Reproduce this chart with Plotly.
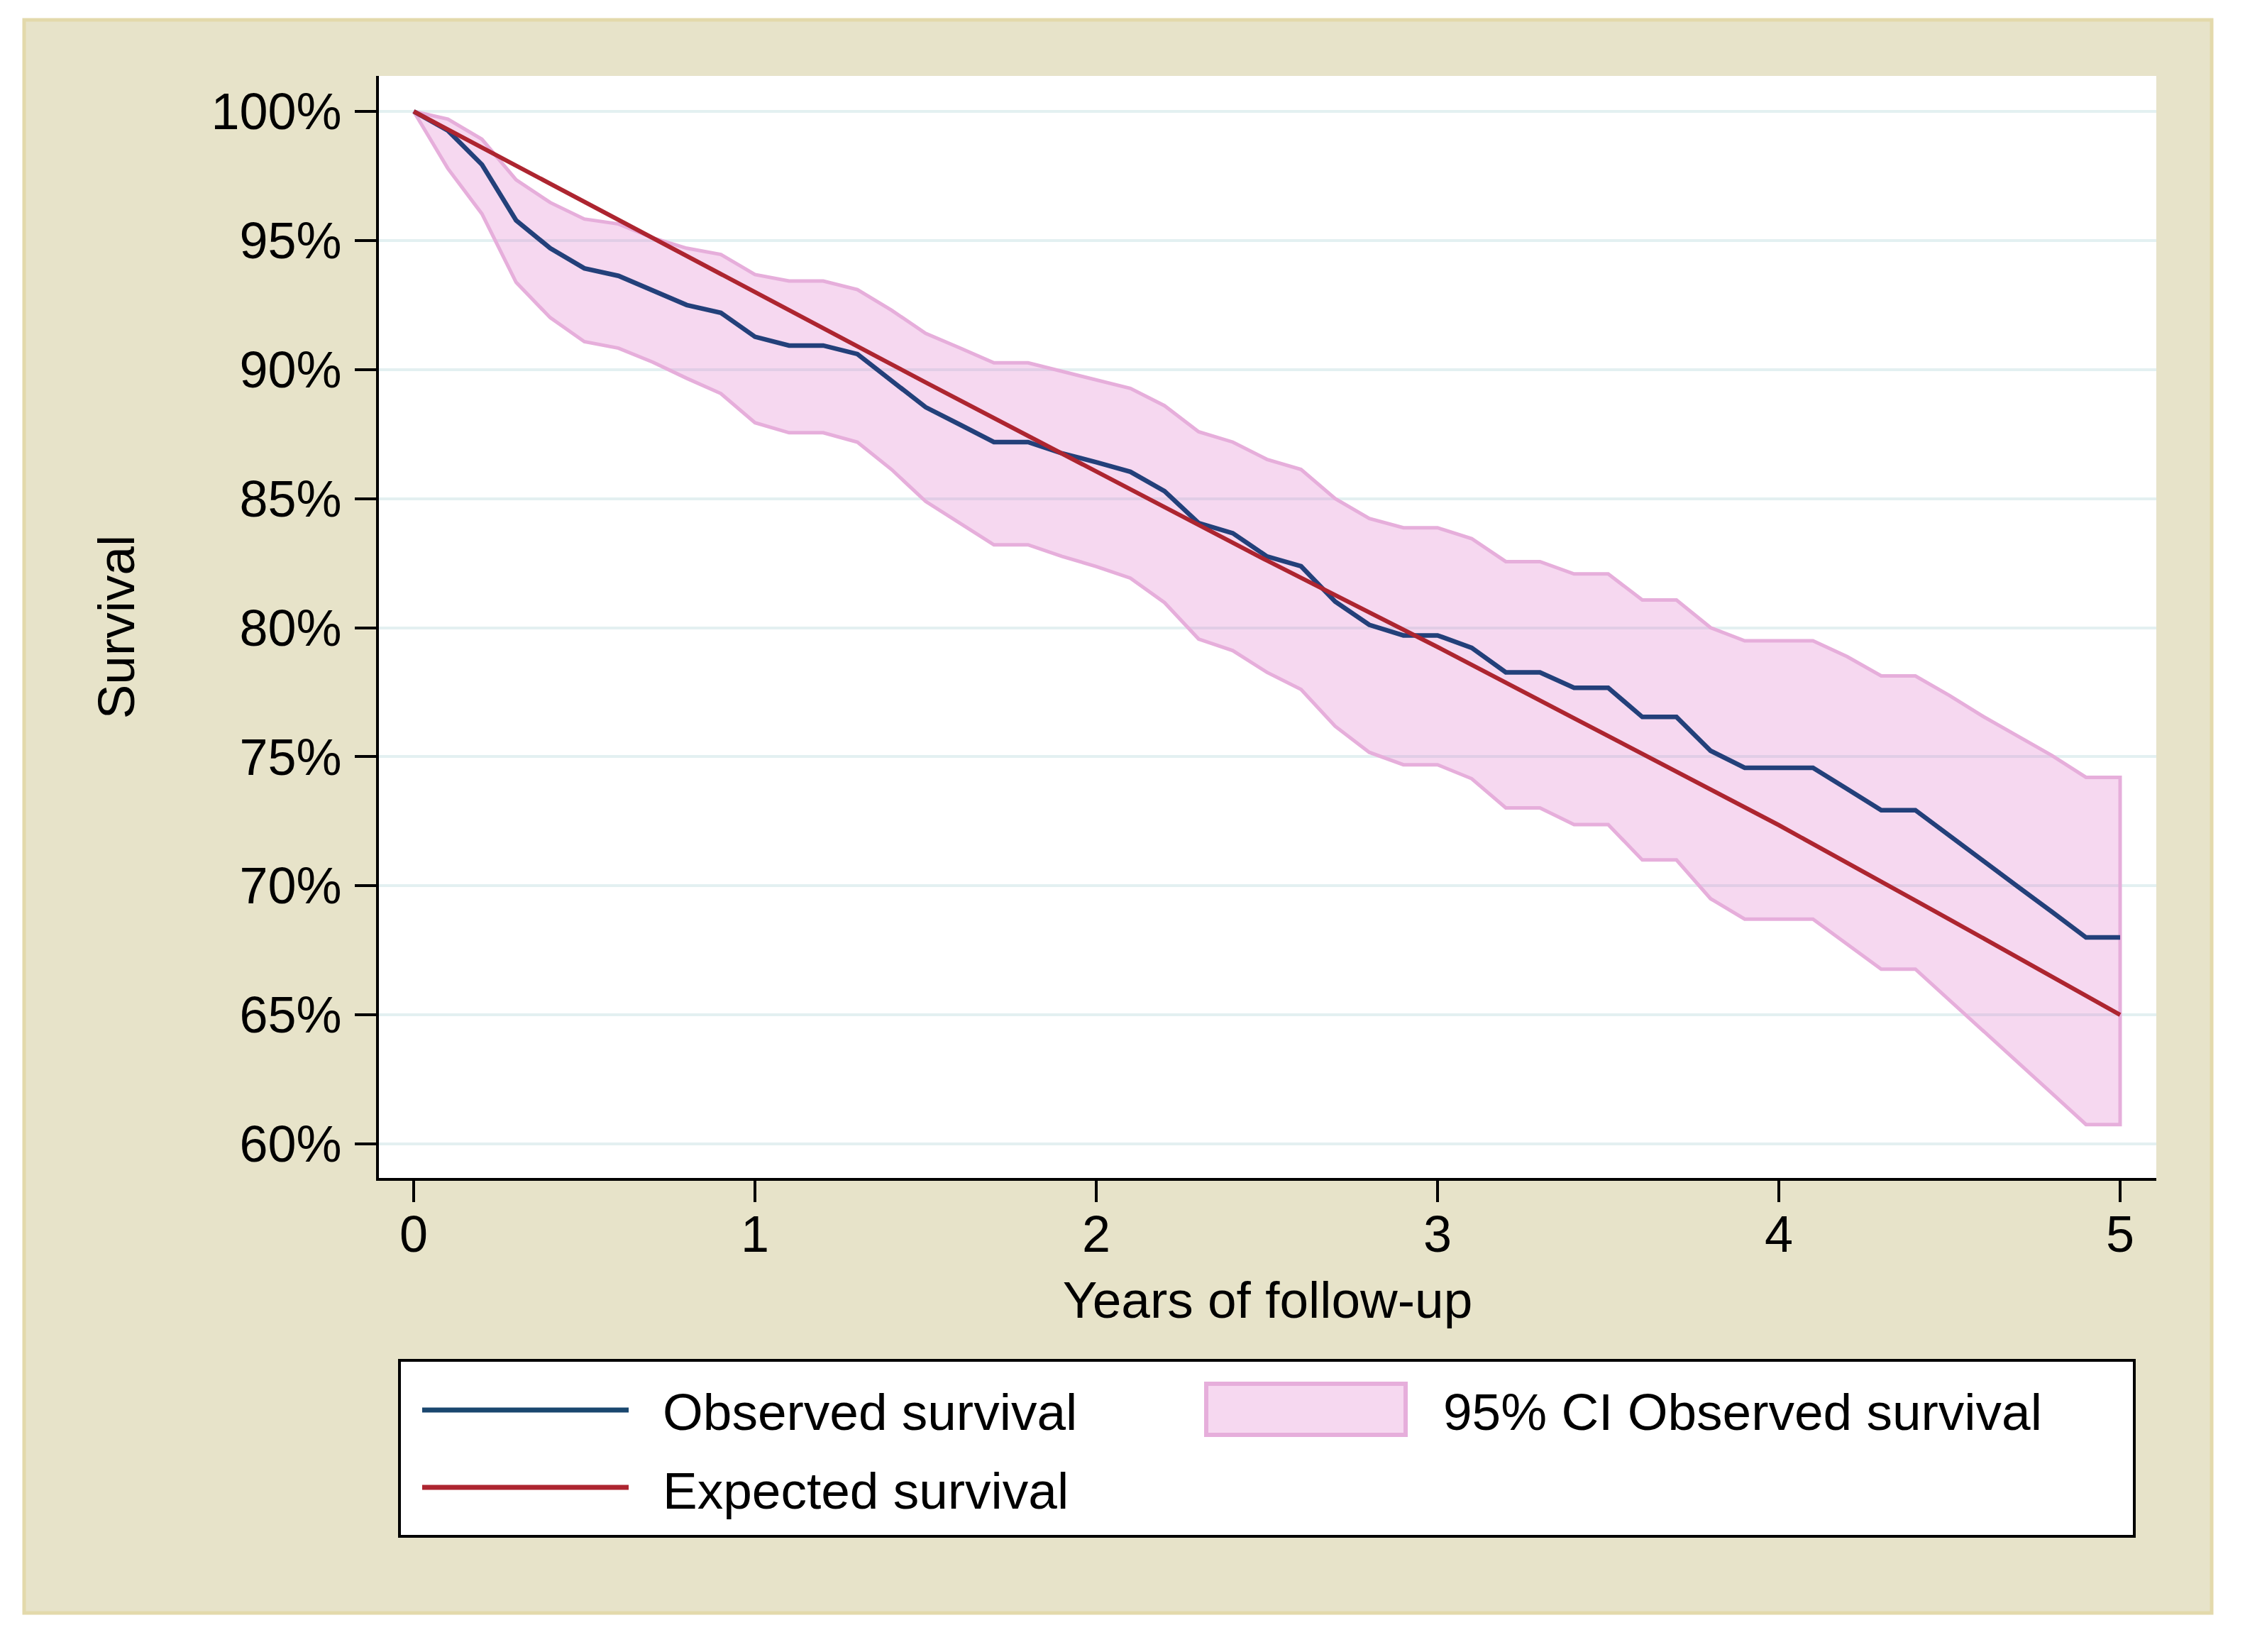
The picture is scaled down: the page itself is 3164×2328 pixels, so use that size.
import plotly.graph_objects as go

# ---------------- data ----------------
years = [0.0, 0.1, 0.2, 0.3, 0.4, 0.5, 0.6, 0.7, 0.8, 0.9,
         1.0, 1.1, 1.2, 1.3, 1.4, 1.5, 1.6, 1.7, 1.8, 1.9,
         2.0, 2.1, 2.2, 2.3, 2.4, 2.5, 2.6, 2.7, 2.8, 2.9,
         3.0, 3.1, 3.2, 3.3, 3.4, 3.5, 3.6, 3.7, 3.8, 3.9,
         4.0, 4.1, 4.2, 4.3, 4.4, 4.5, 4.6, 4.7, 4.8, 4.9, 5.0]

observed = [100.0, 99.26, 97.94, 95.78, 94.70, 93.92, 93.63, 93.05, 92.50, 92.20,
            91.27, 90.93, 90.93, 90.60, 89.55, 88.54, 87.87, 87.19, 87.19, 86.75,
            86.41, 86.04, 85.29, 84.05, 83.66, 82.76, 82.38, 81.01, 80.11, 79.70,
            79.70, 79.22, 78.27, 78.27, 77.67, 77.67, 76.54, 76.54, 75.23, 74.57,
            74.57, 74.57, 73.75, 72.93, 72.93, 71.96, 70.97, 69.97, 68.99, 68.00, 68.00]

ci_upper = [100.0, 99.70, 98.92, 97.35, 96.47, 95.83, 95.64, 95.10, 94.70, 94.46,
            93.68, 93.43, 93.43, 93.10, 92.30, 91.40, 90.84, 90.26, 90.26, 89.94,
            89.61, 89.27, 88.60, 87.59, 87.19, 86.52, 86.13, 85.00, 84.23, 83.87,
            83.87, 83.45, 82.56, 82.56, 82.08, 82.08, 81.07, 81.07, 80.00, 79.49,
            79.49, 79.49, 78.88, 78.13, 78.13, 77.37, 76.55, 75.80, 75.05, 74.20, 74.20]

ci_lower = [100.0, 97.79, 96.03, 93.38, 92.01, 91.08, 90.83, 90.29, 89.66, 89.07,
            87.94, 87.55, 87.55, 87.19, 86.13, 84.89, 84.05, 83.21, 83.21, 82.76,
            82.37, 81.92, 80.97, 79.56, 79.11, 78.27, 77.61, 76.18, 75.17, 74.69,
            74.69, 74.15, 73.02, 73.02, 72.37, 72.37, 71.00, 71.00, 69.50, 68.71,
            68.71, 68.71, 67.73, 66.77, 66.77, 65.60, 64.38, 63.16, 61.96, 60.75, 60.75]

expected_years = [0.0, 0.5, 1.0, 1.5, 2.0, 2.5, 3.0, 3.5, 4.0, 4.5, 5.0]
expected = [100.0, 96.5, 93.0, 89.5, 86.05, 82.6, 79.25, 75.8, 72.35, 68.7, 65.0]

y_ticks = [60, 65, 70, 75, 80, 85, 90, 95, 100]
y_ticklabels = [f"{v}%" for v in y_ticks]
x_ticks = [0, 1, 2, 3, 4, 5]

legend_labels = ["Observed survival", "Expected survival", "95% CI Observed survival"]

# ---------------- styling ----------------
FONT = "Liberation Sans, Arial, Helvetica, sans-serif"
BEIGE = "#e7e3c9"
NAVY = "#23407a"
RED = "#ad2530"
BAND_FILL = "rgba(222,110,200,0.27)"
BAND_LINE = "#e6aedb"
GRID = "#e3f0f1"

# the page body has an 8px margin, so the figure is 16px smaller than the window
PAGE_OFF = 8
W, H = 3164 - 2 * PAGE_OFF, 2328 - 2 * PAGE_OFF
ML, MR, MT, MB = 534 - PAGE_OFF, 125 - PAGE_OFF, 107 - PAGE_OFF, 668 - PAGE_OFF
PW, PH = W - ML - MR, H - MT - MB
PLOT_LEFT = ML + PAGE_OFF          # page pixel of plot left edge
PLOT_BOTTOM = MT + PH + PAGE_OFF   # page pixel of plot bottom edge


def px(x):  # page pixel -> paper x
    return (x - PLOT_LEFT) / PW


def py(y):  # page pixel -> paper y
    return (PLOT_BOTTOM - y) / PH


fig = go.Figure()

# CI band (closed polygon: upper forward, lower backward)
fig.add_trace(go.Scatter(
    x=years + years[::-1],
    y=ci_upper + ci_lower[::-1],
    mode="lines", fill="toself", fillcolor=BAND_FILL,
    line=dict(color=BAND_LINE, width=5),
    name=legend_labels[2], showlegend=False, hoverinfo="skip"))

fig.add_trace(go.Scatter(
    x=years, y=observed, mode="lines",
    line=dict(color=NAVY, width=6.5),
    name=legend_labels[0], showlegend=False))

fig.add_trace(go.Scatter(
    x=expected_years, y=expected, mode="lines",
    line=dict(color=RED, width=6),
    name=legend_labels[1], showlegend=False))

shapes = [
    # outer graph region (beige)
    dict(type="rect", xref="paper", yref="paper", layer="below",
         x0=px(34), x1=px(3117), y0=py(2273), y1=py(28),
         fillcolor=BEIGE, line=dict(color="#e3d9ab", width=5)),
    # plot region (white)
    dict(type="rect", xref="paper", yref="paper", layer="below",
         x0=0, x1=1, y0=0, y1=1, fillcolor="white", line=dict(width=0)),
    # legend box
    dict(type="rect", xref="paper", yref="paper",
         x0=px(563), x1=px(3008), y0=py(2165), y1=py(1917),
         fillcolor="white", line=dict(color="black", width=4)),
    # legend samples
    dict(type="line", xref="paper", yref="paper",
         x0=px(595), x1=px(886), y0=py(1987), y1=py(1987),
         line=dict(color="#1a476f", width=7)),
    dict(type="line", xref="paper", yref="paper",
         x0=px(595), x1=px(886), y0=py(2096), y1=py(2096),
         line=dict(color=RED, width=7)),
    dict(type="rect", xref="paper", yref="paper",
         x0=px(1700), x1=px(1981), y0=py(2022), y1=py(1950),
         fillcolor=BAND_FILL, line=dict(color=BAND_LINE, width=6)),
]

annotations = [
    dict(text=legend_labels[0], xref="paper", yref="paper", x=px(932), y=py(1990),
         xanchor="left", yanchor="middle", showarrow=False,
         font=dict(family=FONT, size=73, color="black")),
    dict(text=legend_labels[1], xref="paper", yref="paper", x=px(932), y=py(2100),
         xanchor="left", yanchor="middle", showarrow=False,
         font=dict(family=FONT, size=73, color="black")),
    dict(text=legend_labels[2], xref="paper", yref="paper", x=px(2032), y=py(1990),
         xanchor="left", yanchor="middle", showarrow=False,
         font=dict(family=FONT, size=73, color="black")),
]

fig.update_layout(
    width=W, height=H,
    margin=dict(l=ML, r=MR, t=MT, b=MB, pad=0),
    paper_bgcolor="white", plot_bgcolor="white",
    font=dict(family=FONT, size=72, color="black"),
    showlegend=False,
    shapes=shapes, annotations=annotations,
    xaxis=dict(
        range=[-0.102, 5.106], tickvals=x_ticks, ticktext=[str(v) for v in x_ticks],
        showgrid=False, zeroline=False,
        showline=True, linecolor="black", linewidth=4,
        ticks="outside", ticklen=30, tickwidth=4, tickcolor="black",
        ticklabelstandoff=-16,
        tickfont=dict(family=FONT, size=72, color="black"),
        title=dict(text="Years of follow-up", standoff=28,
                   font=dict(family=FONT, size=73, color="black")),
    ),
    yaxis=dict(
        range=[58.68, 101.375], tickvals=y_ticks, ticktext=y_ticklabels,
        showgrid=True, gridcolor=GRID, gridwidth=4,
        zeroline=False,
        showline=True, linecolor="black", linewidth=4,
        ticks="outside", ticklen=30, tickwidth=4, tickcolor="black",
        ticklabelstandoff=4,
        tickfont=dict(family=FONT, size=72, color="black"),
        title=dict(text="Survival", standoff=85,
                   font=dict(family=FONT, size=73, color="black")),
    ),
)

fig.write_html("out.html")
